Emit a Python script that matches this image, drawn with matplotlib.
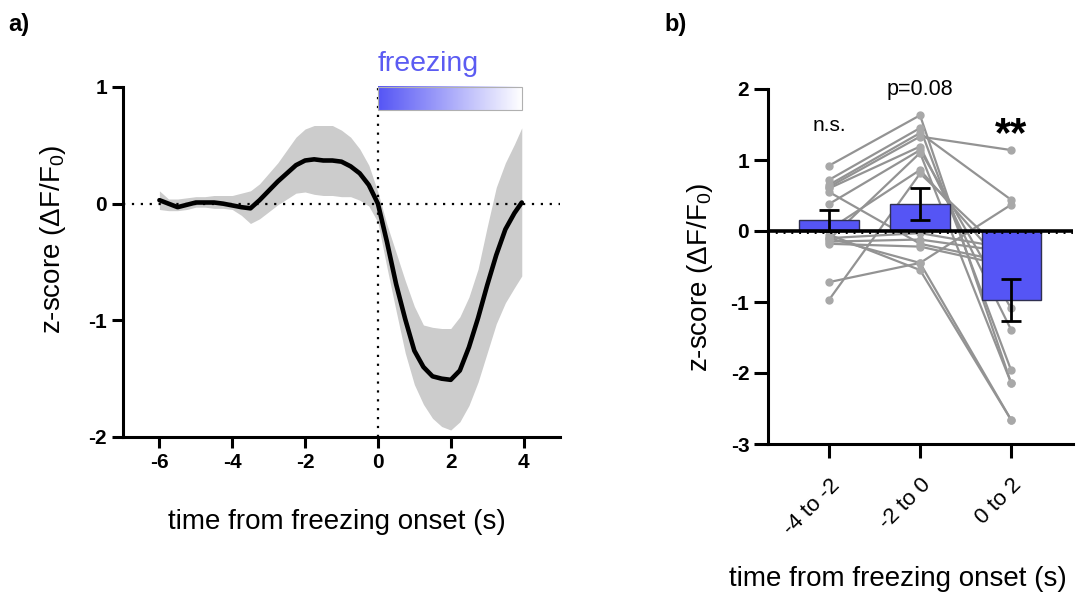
import numpy as np
import matplotlib
matplotlib.use("Agg")
import matplotlib.pyplot as plt
from matplotlib.colors import LinearSegmentedColormap

plt.rcParams['font.family'] = ['Liberation Sans', 'DejaVu Sans']
plt.rcParams['mathtext.fontset'] = 'custom'
plt.rcParams['mathtext.rm'] = 'Liberation Sans'
plt.rcParams['mathtext.it'] = 'Liberation Sans:italic'
plt.rcParams['mathtext.bf'] = 'Liberation Sans:bold'

# ---------------- Panel a data ----------------
time_s = [-6.0, -5.75, -5.5, -5.25, -5.0, -4.75, -4.5, -4.25, -4.0, -3.75, -3.5, -3.25,
          -3.0, -2.75, -2.5, -2.25, -2.0, -1.75, -1.5, -1.25, -1.0, -0.75, -0.5, -0.25,
          0.0, 0.25, 0.5, 0.75, 1.0, 1.25, 1.5, 1.75, 2.0, 2.25, 2.5, 2.75, 3.0, 3.25,
          3.5, 3.75, 3.95]
mean_z = [0.03, 0.00, -0.03, -0.01, 0.01, 0.01, 0.01, 0.00, -0.015, -0.03, -0.04, 0.03,
          0.11, 0.19, 0.26, 0.33, 0.37, 0.38, 0.37, 0.37, 0.36, 0.32, 0.26, 0.16,
          0.0, -0.33, -0.69, -0.99, -1.26, -1.40, -1.48, -1.50, -1.51, -1.43, -1.23, -0.98,
          -0.70, -0.44, -0.22, -0.08, 0.01]
upper_z = [0.11, 0.04, 0.04, 0.05, 0.06, 0.06, 0.07, 0.07, 0.07, 0.09, 0.11, 0.17,
           0.26, 0.35, 0.46, 0.57, 0.64, 0.67, 0.67, 0.67, 0.63, 0.57, 0.47, 0.33,
           0.10, -0.18, -0.42, -0.66, -0.88, -1.04, -1.06, -1.07, -1.07, -0.97, -0.80, -0.56,
           -0.20, 0.14, 0.35, 0.51, 0.65]
lower_z = [-0.05, -0.06, -0.06, -0.05, -0.03, -0.03, -0.04, -0.04, -0.05, -0.10, -0.17, -0.13,
           -0.07, -0.01, 0.04, 0.09, 0.10, 0.08, 0.07, 0.07, 0.06, 0.06, 0.03, -0.02,
           -0.16, -0.55, -0.92, -1.28, -1.55, -1.72, -1.84, -1.91, -1.94, -1.87, -1.73, -1.53,
           -1.28, -1.03, -0.85, -0.72, -0.62]
freeze_span = [0.0, 3.95]

# ---------------- Panel b data ----------------
categories = ['-4 to -2', '-2 to 0', '0 to 2']
bar_means = [0.15, 0.38, -0.97]
bar_sems = [0.15, 0.22, 0.30]
subj_c1 = [0.92, 0.72, 0.65, 0.62, 0.60, 0.38, 0.02, -0.97, -0.10, -0.15, -0.18, -0.72, -0.05, 0.55, -0.12, -0.10]
subj_c2 = [1.63, 1.45, 1.38, 1.33, 1.19, 1.14, 0.86, 0.81, -0.03, -0.12, -0.22, -0.45, -0.55, -0.18, 1.10, -0.45]
subj_c3 = [-2.14, -1.96, 0.44, 1.14, -1.39, -1.09, -0.60, -0.40, -0.25, -0.30, -0.50, -2.66, -2.66, -0.45, -2.14, 0.37]
sig_labels = ['n.s.', 'p=0.08', '**']

W, H = 1077, 592
fig = plt.figure(figsize=(W / 100, H / 100), dpi=100)

def fr(x0, y0, x1, y1):
    return [x0 / W, 1 - y1 / H, (x1 - x0) / W, (y1 - y0) / H]

BLUE = '#5555F5'
TICKFS = 15
LABFS = 20

# ---------------- Panel a ----------------
ax = fig.add_axes(fr(123, 87, 560, 437))
ax.set_xlim(-7, 5)
ax.set_ylim(-2, 1)
ax.fill_between(time_s, lower_z, upper_z, color='#cccccc', lw=0, zorder=1)
ax.axhline(0, color='black', ls=(0, (1, 3)), lw=1.6, zorder=2)
ax.axvline(0, color='black', ls=(0, (1, 3)), lw=1.6, zorder=2)
ax.plot(time_s, mean_z, color='black', lw=3.3, zorder=3, solid_capstyle='round',
        solid_joinstyle='round')

cmap = LinearSegmentedColormap.from_list('fz', [BLUE, '#ffffff'])
grad = np.linspace(0, 1, 256).reshape(1, -1)
ax.imshow(grad, cmap=cmap, aspect='auto', extent=[freeze_span[0], freeze_span[1], 0.8, 1.0],
          clip_on=False, zorder=4)
ax.add_patch(plt.Rectangle((freeze_span[0], 0.8), freeze_span[1] - freeze_span[0], 0.2,
                           fill=False, ec='#b0b0b0', lw=0.8, clip_on=False, zorder=5))
ax.text(freeze_span[0], 1.2, 'freezing', color='#5B5BF2', fontsize=20.5, ha='left', va='center',
        clip_on=False)

for s in ['top', 'right']:
    ax.spines[s].set_visible(False)
for s in ['left', 'bottom']:
    ax.spines[s].set_linewidth(2.2)
ax.set_xticks([-6, -4, -2, 0, 2, 4])
ax.set_xticklabels(['-6', '-4', '-2', '0', '2', '4'])
ax.set_yticks([-2, -1, 0, 1])
ax.set_yticklabels(['-2', '-1', '0', '1'])
ax.tick_params(axis='both', width=2.2, length=8, labelsize=TICKFS)
for lab in ax.get_xticklabels() + ax.get_yticklabels():
    lab.set_fontweight('bold')
ax.set_xlabel('time from freezing onset (s)', fontsize=LABFS)
ax.xaxis.set_label_coords(0.49, -0.205)
ax.set_ylabel('z-score (ΔF/F$_0$)', fontsize=LABFS)
ax.yaxis.set_label_coords(-0.125, 0.565)
fig.text(8 / W, 1 - 24 / H, 'a)', fontsize=17, fontweight='bold', va='center', ha='left')

# ---------------- Panel b ----------------
bx = fig.add_axes(fr(768, 89, 1073, 444))
xpos = np.arange(len(categories))
bx.set_xlim(-0.67, 2.68)
bx.set_ylim(-3, 2)
for a, b, c in zip(subj_c1, subj_c2, subj_c3):
    bx.plot(xpos, [a, b, c], color='#939393', lw=1.6, zorder=1)
    bx.plot(xpos, [a, b, c], ls='none', marker='o', ms=5, color='#a8a8a8', zorder=1.5)
bx.bar(xpos, bar_means, width=0.65, color=BLUE, edgecolor='#303050', lw=1.0, zorder=2)
bx.errorbar(xpos, bar_means, yerr=bar_sems, fmt='none', ecolor='black', elinewidth=2.0,
            capsize=7, capthick=2.0, zorder=3)
bx.axhline(-0.03, color='black', ls=(0, (1, 3)), lw=1.4, zorder=2.5)
bx.axhline(0, color='black', lw=2.6, zorder=2.6)

for s in ['top', 'right']:
    bx.spines[s].set_visible(False)
for s in ['left', 'bottom']:
    bx.spines[s].set_linewidth(2.2)
bx.set_yticks([-3, -2, -1, 0, 1, 2])
bx.set_yticklabels(['-3', '-2', '-1', '0', '1', '2'])
for lab in bx.get_yticklabels():
    lab.set_fontweight('bold')
bx.set_xticks(xpos)
bx.set_xticklabels(categories, rotation=45, ha='right', rotation_mode='anchor')
bx.tick_params(axis='both', width=2.2, length=10, labelsize=TICKFS)
bx.tick_params(axis='x', labelsize=16, pad=12)
bx.set_xlabel('time from freezing onset (s)', fontsize=LABFS)
bx.xaxis.set_label_coords(0.426, -0.345)
bx.set_ylabel('z-score (ΔF/F$_0$)', fontsize=LABFS)
bx.yaxis.set_label_coords(-0.175, 0.47)
bx.text(0, 1.48, sig_labels[0], ha='center', va='center', fontsize=15)
bx.text(1, 1.99, sig_labels[1], ha='center', va='center', fontsize=15.5)
bx.text(2, 1.2, sig_labels[2], ha='center', va='baseline', fontsize=30, fontweight='bold')
fig.text(664 / W, 1 - 24 / H, 'b)', fontsize=17, fontweight='bold', va='center', ha='left')

fig.savefig('out.png', dpi=100)
